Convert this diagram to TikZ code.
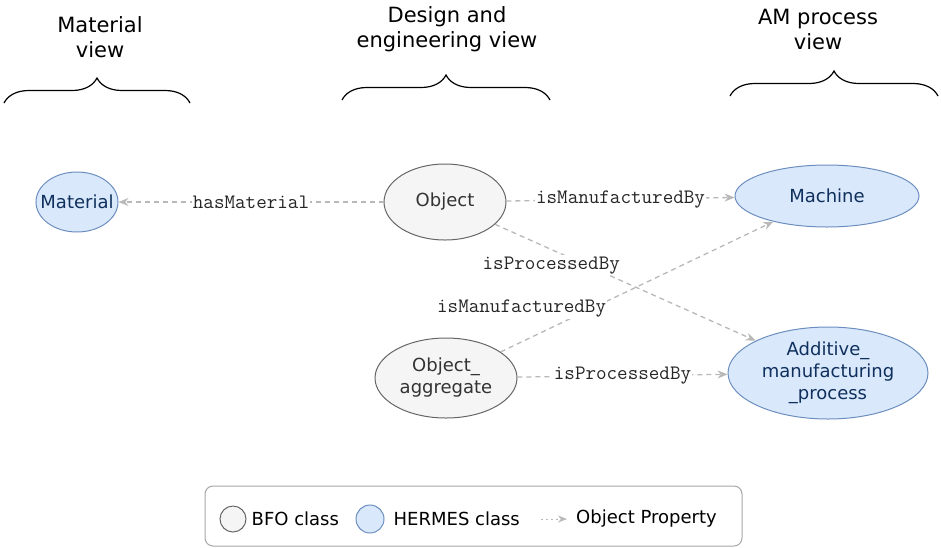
\documentclass[tikz,border=0pt]{standalone}
\usepackage{fontspec}
\setmainfont{DejaVu Sans}
\usetikzlibrary{arrows.meta,decorations.pathreplacing,positioning,shapes.geometric}
\definecolor{bfofill}{HTML}{F5F5F5}
\definecolor{bfoline}{HTML}{666666}
\definecolor{bfotext}{HTML}{333333}
\definecolor{hermesfill}{HTML}{DAE8FC}
\definecolor{hermesline}{HTML}{6C8EBF}
\definecolor{hermestext}{HTML}{0F305C}
\definecolor{propline}{HTML}{B8B8B8}
\tikzset{%
	bfo/.style       = {draw=bfoline, fill=bfofill, text=bfotext, ellipse, inner sep=0pt, align=center, line width=1pt, font=\fontsize{18}{22}\selectfont},
	hermes/.style    = {draw=hermesline, fill=hermesfill, text=hermestext, ellipse, inner sep=0pt, align=center, line width=1pt, font=\fontsize{18}{22}\selectfont},
	prop/.style      = {draw=propline, line width=1.3pt, dash pattern=on 5pt off 4pt, -{Stealth[length=10pt,width=8pt]}},
	propname/.style  = {fill=white, inner sep=1pt, text=black!85, font=\ttfamily\fontsize{20.5}{22}\selectfont},
	viewbrace/.style = {decorate, decoration={brace, amplitude=25pt}, line width=1.2pt},
	viewname/.style  = {align=center, font=\fontsize{21}{25}\selectfont},
	keytext/.style   = {inner sep=0pt, font=\fontsize{18}{22}\selectfont},
}

\begin{document}
\begin{tikzpicture}[x=1pt,y=-1pt]
	\useasboundingbox (0,0) rectangle (941,547);

	% views
	\node[viewname] (matview) at (100,37) {Material\\view};
	\node[viewname] (desview) at (447,29) {Design and\\engineering view};
	\node[viewname] (amview) at (818,29) {AM process\\view};
	\draw[viewbrace] (4,103) -- (190,103);
	\draw[viewbrace] (342,100) -- (550,100);
	\draw[viewbrace] (730,96) -- (938,96);

	% classes
	\node[hermes, inner xsep=-8pt, minimum width=82pt, minimum height=60pt] (material) at (77,202) {Material};
	\node[bfo, minimum width=122pt, minimum height=76pt] (object) at (445,202) {Object};
	\node[hermes, minimum width=184pt, minimum height=62pt] (machine) at (827,196) {Machine};
	\node[bfo, minimum width=142pt, minimum height=80pt] (aggregate) at (446,378) {Object\_\\aggregate};
	\node[hermes, minimum width=200pt, minimum height=92pt] (amprocess) at (828,373) {Additive\_\\manufacturing\\\_process};

	% object properties
	\draw[prop] (object) -- node[propname] {hasMaterial} (material);
	\draw[prop] (object) -- node[propname] {isManufacturedBy} (machine);
	\draw[prop] (object) -- node[propname, pos=0.35, xshift=-35pt] {isProcessedBy} (amprocess);
	\draw[prop] (aggregate) -- node[propname, pos=0.33, xshift=-69pt] {isManufacturedBy} (machine);
	\draw[prop] (aggregate) -- node[propname] {isProcessedBy} (amprocess);

	% legend
	\draw[draw=black!35, line width=1pt, rounded corners=8pt] (205,486) rectangle (742,546);
	\node[bfo, circle, minimum size=26pt] (bfokey) at (233,519) {};
	\node[keytext, right=5pt of bfokey] (bfokeytext) {BFO class};
	\node[hermes, circle, minimum size=28pt] (hermeskey) at (370,519) {};
	\node[keytext, right=9pt of hermeskey] (hermeskeytext) {HERMES class};
	\coordinate (propkeystart) at (541,519);
	\coordinate (propkeyend) at (567,519);
	\draw[draw=propline, line width=1pt, dash pattern=on 2pt off 3pt, -{Stealth[length=9pt,width=7pt]}] (propkeystart) -- (propkeyend);
	\node[keytext, right=9pt of propkeyend] (propkeytext) {Object Property};
\end{tikzpicture}
\end{document}
